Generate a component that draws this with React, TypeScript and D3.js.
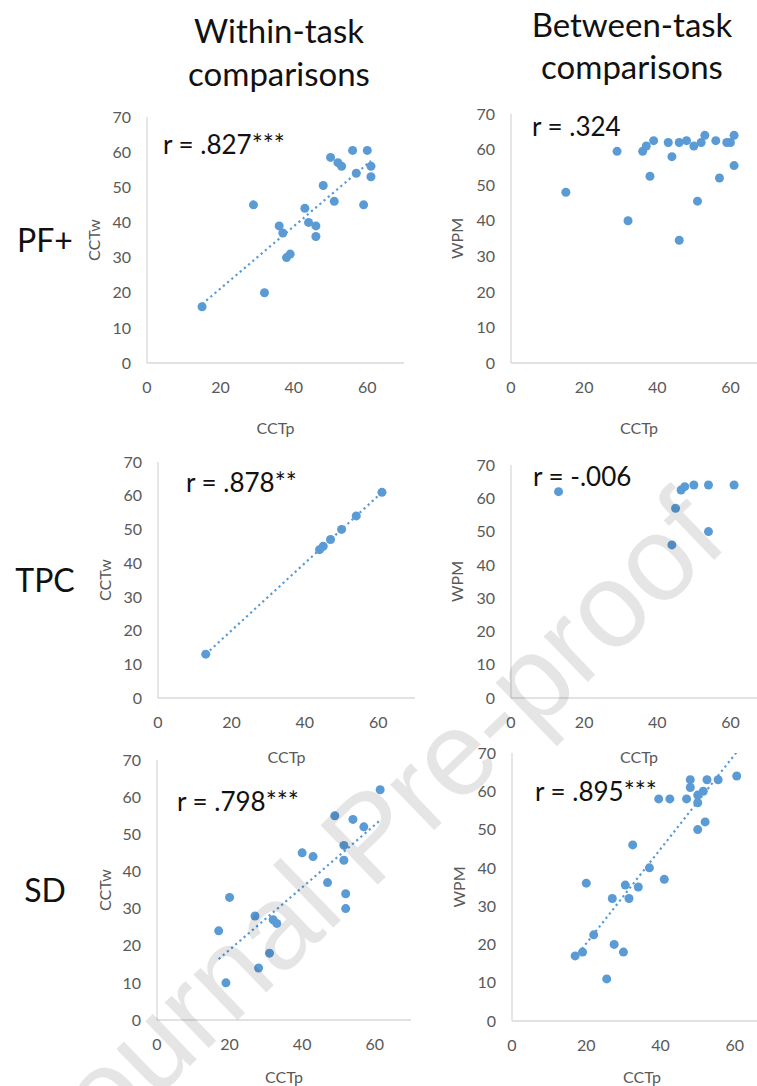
import * as d3 from "d3";

const WIDTH = 757;
const HEIGHT = 1086;
const BLUE = "#5B9BD5";
const GREY_TEXT = "#595959";
const AXIS_GREY = "#D9D9D9";
const FONT = "Lato, 'Noto Sans', sans-serif";

const TICKS = [0, 10, 20, 30, 40, 50, 60, 70];
const X_TICKS = [0, 20, 40, 60];

// [CCTp, CCTw] / [CCTp, WPM] pairs
const PF_WITHIN: [number, number][] = [
  [15, 16], [29, 45], [32, 20], [36, 39], [37, 37], [38, 30], [39, 31],
  [43, 44], [44, 40], [46, 39], [46, 36], [48, 50.5], [50, 58.5], [51, 46],
  [52, 57], [53, 56], [56, 60.5], [57, 54], [59, 45], [60, 60.5], [61, 56], [61, 53],
];
const PF_BETWEEN: [number, number][] = [
  [15, 48], [29, 59.5], [32, 40], [36, 59.5], [37, 61], [38, 52.5], [39, 62.5],
  [43, 62], [44, 58], [46, 62], [46, 34.5], [48, 62.5], [50, 61], [51, 45.5],
  [52, 62], [53, 64], [56, 62.5], [57, 52], [59, 62], [60, 62], [61, 64], [61, 55.5],
];
const TPC_WITHIN: [number, number][] = [
  [13, 13], [44, 44], [45, 45], [47, 47], [50, 50], [54, 54], [61, 61],
];
const TPC_BETWEEN: [number, number][] = [
  [13, 62], [44, 46], [45, 57], [46.5, 62.5], [47.5, 63.5], [50, 64], [54, 64], [54, 50], [61, 64],
];
const SD_WITHIN: [number, number][] = [
  [17, 24], [19, 10], [20, 33], [27, 28], [28, 14], [31, 18], [32, 27], [33, 26],
  [40, 45], [43, 44], [47, 37], [49, 55], [51.5, 47], [51.5, 43], [52, 34], [52, 30],
  [54, 54], [57, 52], [61.5, 62],
];
const SD_BETWEEN: [number, number][] = [
  [17, 17], [19, 18], [20, 36], [22, 22.5], [25.5, 11], [27, 32], [27.5, 20], [30, 18],
  [30.5, 35.5], [31.5, 32], [32.5, 46], [34, 35], [37, 40], [39.5, 58], [41, 37],
  [42.5, 58], [47, 58], [48, 63], [48, 61], [50, 57], [50, 59], [51.5, 60], [50, 50],
  [52, 52], [52.5, 63], [55.5, 63], [60.5, 64],
];

const COLUMN_HEADERS = [
  { lines: ["Within-task", "comparisons"], x: 279, y: [43, 86] },
  { lines: ["Between-task", "comparisons"], x: 632, y: [37, 79] },
];
const ROW_LABELS = ["PF+", "TPC", "SD"];

// layout of each panel (pixel frame of 0..70 on both axes)
const PANELS = [
  { pts: PF_WITHIN, r: "r = .827***", yTitle: "CCTw", trend: true, left: 147, right: 404, top: 117, bottom: 363, yTitleX: 94, xTitleY: 428, rx: 163, ry: 154 },
  { pts: PF_BETWEEN, r: "r = .324", yTitle: "WPM", trend: false, left: 511, right: 767, top: 114, bottom: 363, yTitleX: 457, xTitleY: 428, rx: 532, ry: 136 },
  { pts: TPC_WITHIN, r: "r = .878**", yTitle: "CCTw", trend: true, left: 158, right: 415, top: 462, bottom: 698, yTitleX: 105, xTitleY: 757, rx: 186, ry: 492 },
  { pts: TPC_BETWEEN, r: "r = -.006", yTitle: "WPM", trend: false, left: 511, right: 767, top: 465, bottom: 698, yTitleX: 457, xTitleY: 757, rx: 533, ry: 486 },
  { pts: SD_WITHIN, r: "r = .798***", yTitle: "CCTw", trend: true, left: 157, right: 411, top: 760, bottom: 1020, yTitleX: 105, xTitleY: 1077, rx: 177, ry: 811 },
  { pts: SD_BETWEEN, r: "r = .895***", yTitle: "WPM", trend: true, left: 512, right: 772, top: 753, bottom: 1021, yTitleX: 459, xTitleY: 1077, rx: 535, ry: 801 },
];

function fit(pts: [number, number][]) {
  const mx = d3.mean(pts, (d) => d[0])!;
  const my = d3.mean(pts, (d) => d[1])!;
  const sxy = d3.sum(pts, (d) => (d[0] - mx) * (d[1] - my));
  const sxx = d3.sum(pts, (d) => (d[0] - mx) ** 2);
  const b = sxy / sxx;
  const [x0, x1] = d3.extent(pts, (d) => d[0]) as [number, number];
  return [
    [x0, my + b * (x0 - mx)],
    [x1, my + b * (x1 - mx)],
  ];
}

function Panel({ p, i }: { p: (typeof PANELS)[number]; i: number }) {
  const x = d3.scaleLinear().domain([0, 70]).range([p.left, p.right]);
  const y = d3.scaleLinear().domain([0, 70]).range([p.bottom, p.top]);
  const line = d3
    .line<number[]>()
    .x((d) => x(d[0]))
    .y((d) => y(d[1]));
  const midY = (p.top + p.bottom) / 2;
  const midX = (p.left + p.right) / 2;
  return (
    <g>
      <defs>
        <clipPath id={`clip-${i}`}>
          <rect x={p.left} y={p.top} width={p.right - p.left} height={p.bottom - p.top} />
        </clipPath>
      </defs>
      <line x1={p.left} x2={p.left} y1={p.top} y2={p.bottom} stroke={AXIS_GREY} strokeWidth={1.3} />
      <line x1={p.left} x2={p.right} y1={p.bottom} y2={p.bottom} stroke={AXIS_GREY} strokeWidth={1.3} />
      {TICKS.map((t) => (
        <text key={"y" + t} x={p.left - 16} y={y(t)} dy="0.36em" textAnchor="end" fontSize={16} fill={GREY_TEXT}>
          {t}
        </text>
      ))}
      {X_TICKS.map((t) => (
        <text key={"x" + t} x={x(t)} y={p.bottom + 30} textAnchor="middle" fontSize={16} fill={GREY_TEXT}>
          {t}
        </text>
      ))}
      <text x={midX} y={p.xTitleY} dy="0.36em" textAnchor="middle" fontSize={16} fill={GREY_TEXT}>
        CCTp
      </text>
      <text
        transform={`translate(${p.yTitleX},${midY}) rotate(-90)`}
        dy="0.36em"
        textAnchor="middle"
        fontSize={16}
        fill={GREY_TEXT}
      >
        {p.yTitle}
      </text>
      {p.trend && (
        <path
          d={line(fit(p.pts))!}
          clipPath={`url(#clip-${i})`}
          fill="none"
          stroke={BLUE}
          strokeWidth={2.2}
          strokeDasharray="2.2 3.3"
        />
      )}
      {p.pts.map((d, k) => (
        <circle key={k} cx={x(d[0])} cy={y(d[1])} r={4.5} fill={BLUE} />
      ))}
      <text x={p.rx} y={p.ry} fontSize={26} fill="#111">
        {p.r}
      </text>
    </g>
  );
}

export default function App() {
  const rowY = [0, 2, 4].map((k) => (PANELS[k].top + PANELS[k].bottom) / 2);
  return (
    <svg
      width={WIDTH}
      height={HEIGHT}
      style={{ position: "absolute", left: 0, top: 0, background: "#fff" }}
      fontFamily={FONT}
    >
      <rect width={WIDTH} height={HEIGHT} fill="#fff" />
      {COLUMN_HEADERS.map((h) =>
        h.lines.map((l, k) => (
          <text key={h.x + l} x={h.x} y={h.y[k]} textAnchor="middle" fontSize={33} fill="#111">
            {l}
          </text>
        ))
      )}
      {ROW_LABELS.map((l, k) => (
        <text key={l} x={45} y={rowY[k]} dy="0.36em" textAnchor="middle" fontSize={32} fill="#111">
          {l}
        </text>
      ))}
      {PANELS.map((p, i) => (
        <Panel key={i} p={p} i={i} />
      ))}
      <text
        transform="translate(367,835) rotate(-44)"
        textAnchor="middle"
        dy="0.36em"
        fontSize={120}
        fontFamily="'Liberation Sans', Arial, sans-serif"
        fill="#000"
        fillOpacity={0.1}
      >
        Journal Pre-proof
      </text>
    </svg>
  );
}
